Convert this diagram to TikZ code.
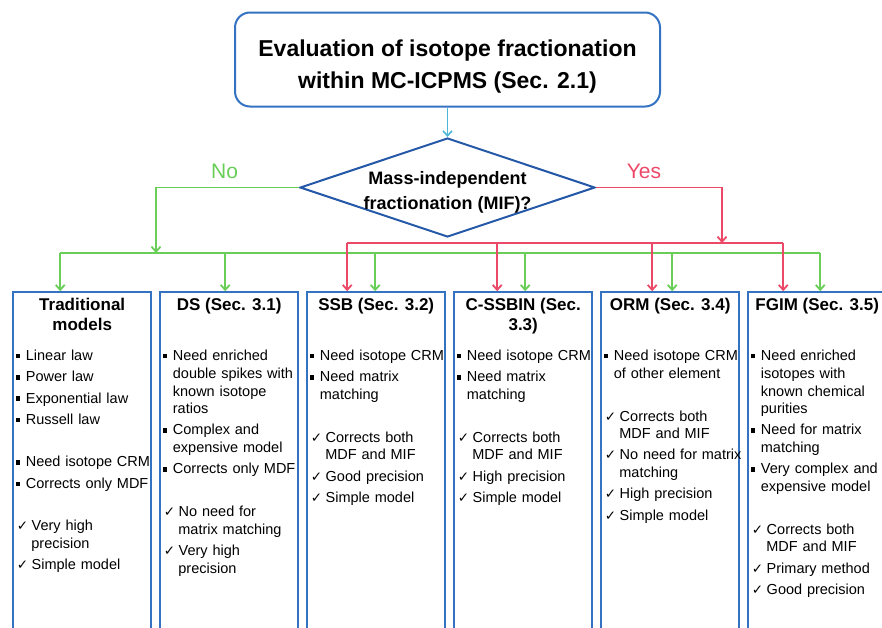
\documentclass[tikz,border=0pt]{standalone}
\usepackage{fontspec}
\setmainfont{Liberation Sans}
\newfontfamily\symfont{DejaVu Sans}
\usetikzlibrary{arrows.meta, shapes.geometric, positioning}

\definecolor{boxblue}{RGB}{52,114,194}
\definecolor{diablue}{RGB}{38,88,168}
\definecolor{nogreen}{RGB}{104,206,88}
\definecolor{yesred}{RGB}{236,72,104}
\definecolor{startcyan}{RGB}{78,182,214}

\newcommand{\sqb}{\rule[0.15em]{0.3em}{0.3em}}
\newcommand{\ckm}{{\symfont\fontsize{13.5}{13.5}\selectfont ✓}}
\newcommand{\gap}{\vspace{25pt}}

\newenvironment{bullets}{\begin{list}{\sqb}{\setlength{\leftmargin}{10pt}%
  \setlength{\labelwidth}{4.4pt}\setlength{\labelsep}{6pt}\setlength{\itemsep}{3.5pt}%
  \setlength{\parsep}{0pt}\setlength{\topsep}{0pt}\setlength{\partopsep}{0pt}}}{\end{list}}
\newenvironment{checks}{\begin{list}{\ckm}{\setlength{\leftmargin}{15.5pt}%
  \setlength{\labelwidth}{11pt}\setlength{\labelsep}{3.5pt}\setlength{\itemsep}{3.5pt}%
  \setlength{\parsep}{0pt}\setlength{\topsep}{0pt}\setlength{\partopsep}{0pt}}}{\end{list}}

\begin{document}
\begin{tikzpicture}[x=1pt, y=-1pt, >={Straight Barb[length=5pt,width=9pt]},
  topbox/.style={draw=boxblue, line width=2pt, rounded corners=15pt,
    minimum width=425pt, minimum height=94pt},
  toptxt/.style={align=center, inner sep=0pt, font=\bfseries\fontsize{23}{31.5}\selectfont},
  dia/.style={diamond, draw=diablue, line width=2pt, minimum width=295pt,
    minimum height=99pt, inner sep=0pt},
  diatxt/.style={align=center, inner sep=0pt, font=\bfseries\fontsize{18}{25}\selectfont},
  col/.style={draw=boxblue, line width=2pt, minimum width=138pt, minimum height=345pt,
    inner sep=0pt},
  ttl/.style={align=center, inner sep=0pt, font=\bfseries\fontsize{17}{20}\selectfont},
  body/.style={text width=150pt, inner sep=0pt, font=\fontsize{14.5}{17.7}\selectfont},
  nobranch/.style={draw=nogreen, line width=1.8pt},
  yesbranch/.style={draw=yesred, line width=1.8pt},
  answer/.style={inner sep=0pt, font=\fontsize{21}{21}\selectfont}]

  \useasboundingbox (0,0) rectangle (882,627);
  \clip (0,0) rectangle (882,627);

  \node[topbox] (eval) at (447.5,59.5) {};
  \node[toptxt] (evaltxt) at ([yshift=-7pt]eval.center) {Evaluation of isotope fractionation\\within MC-ICPMS (Sec. 2.1)};
  \node[dia] (mif) at (447.5,187.5) {};
  \node[diatxt] (miftxt) at ([yshift=-4.5pt]mif.center) {Mass-independent\\fractionation (MIF)?};

  \matrix (cols) [anchor=north west, column sep=7pt, inner sep=0pt, nodes={col}] at (12,291) {
    \node (trad) {}; & \node (ds) {}; & \node (ssb) {}; &
    \node (cssbin) {}; & \node (orm) {}; & \node (fgim) {}; \\
  };

  % column headings
  \node[ttl, below=7pt of trad.north] (tradT) {Traditional\\models};
  \node[ttl, below=7pt of ds.north] (dsT) {DS (Sec. 3.1)};
  \node[ttl, below=7pt of ssb.north] (ssbT) {SSB (Sec. 3.2)};
  \node[ttl, below=7pt of cssbin.north] (cssbinT) {C-SSBIN (Sec.\\3.3)};
  \node[ttl, below=7pt of orm.north] (ormT) {ORM (Sec. 3.4)};
  \node[ttl, below=7pt of fgim.north] (fgimT) {FGIM (Sec. 3.5)};

  % column contents
  \node[body, below right=51.5pt and 3.5pt of trad.north west] (tradB) {%
    \begin{bullets}\item Linear law \item Power law \item Exponential law \item Russell law\end{bullets}\gap
    \begin{bullets}\item Need isotope CRM \item Corrects only MDF\end{bullets}\gap
    \begin{checks}\item Very high\newline precision \item Simple model\end{checks}};
  \node[body, below right=51.5pt and 3.5pt of ds.north west] (dsB) {%
    \begin{bullets}\item Need enriched\newline double spikes with\newline known isotope\newline ratios
      \item Complex and\newline expensive model \item Corrects only MDF\end{bullets}\gap
    \begin{checks}\item No need for\newline matrix matching \item Very high\newline precision\end{checks}};
  \node[body, below right=51.5pt and 3.5pt of ssb.north west] (ssbB) {%
    \begin{bullets}\item Need isotope CRM \item Need matrix\newline matching\end{bullets}\gap
    \begin{checks}\item Corrects both\newline MDF and MIF \item Good precision \item Simple model\end{checks}};
  \node[body, below right=51.5pt and 3.5pt of cssbin.north west] (cssbinB) {%
    \begin{bullets}\item Need isotope CRM \item Need matrix\newline matching\end{bullets}\gap
    \begin{checks}\item Corrects both\newline MDF and MIF \item High precision \item Simple model\end{checks}};
  \node[body, below right=51.5pt and 3.5pt of orm.north west] (ormB) {%
    \begin{bullets}\item Need isotope CRM\newline of other element\end{bullets}\gap
    \begin{checks}\item Corrects both\newline MDF and MIF \item No need for matrix\newline matching
      \item High precision \item Simple model\end{checks}};
  \node[body, below right=51.5pt and 3.5pt of fgim.north west] (fgimB) {%
    \begin{bullets}\item Need enriched\newline isotopes with\newline known chemical\newline purities
      \item Need for matrix\newline matching \item Very complex and\newline expensive model\end{bullets}\gap
    \begin{checks}\item Corrects both\newline MDF and MIF \item Primary method \item Good precision\end{checks}};

  % branches
  \coordinate (gb) at (156,253);
  \coordinate (rb) at (722,243);
  \draw[->, draw=startcyan, line width=1.6pt] (eval) -- (mif);
  \draw[nobranch, ->] (mif.west) -| node[answer, pos=0.26, above=8pt, text=nogreen] (no) {No} (gb);
  \draw[yesbranch, ->] (mif.east) -| node[answer, pos=0.19, above=8pt, text=yesred] (yes) {Yes} (rb);

  \draw[nobranch] ([xshift=-22pt]trad.north |- gb) -- ([xshift=3pt]fgim.north |- gb);
  \draw[yesbranch] ([xshift=-29pt]ssb.north |- rb) -- ([xshift=-34pt]fgim.north |- rb);
  \foreach \b/\dx in {trad/-22, ds/-4, ssb/-1, cssbin/2, orm/2, fgim/3}
    \draw[nobranch, ->] ([xshift=\dx pt]\b.north |- gb) -- ([xshift=\dx pt]\b.north);
  \foreach \b/\dx in {ssb/-29, cssbin/-26, orm/-18, fgim/-34}
    \draw[yesbranch, ->] ([xshift=\dx pt]\b.north |- rb) -- ([xshift=\dx pt]\b.north);
\end{tikzpicture}
\end{document}
